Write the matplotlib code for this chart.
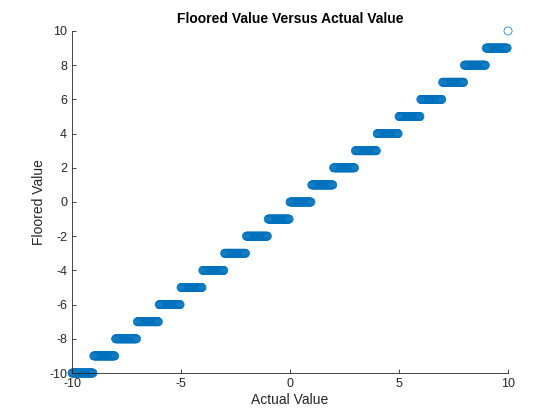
import matplotlib
matplotlib.use('Agg')
import matplotlib.pyplot as plt
import numpy as np

# floored levels and the sampled offsets within each unit interval
levels = [-10, -9, -8, -7, -6, -5, -4, -3, -2, -1, 0, 1, 2, 3, 4, 5, 6, 7, 8, 9]
offsets = [0.00, 0.02, 0.04, 0.06, 0.08, 0.10, 0.12, 0.14, 0.16, 0.18,
           0.20, 0.22, 0.24, 0.26, 0.28, 0.30, 0.32, 0.34, 0.36, 0.38,
           0.40, 0.42, 0.44, 0.46, 0.48, 0.50, 0.52, 0.54, 0.56, 0.58,
           0.60, 0.62, 0.64, 0.66, 0.68, 0.70, 0.72, 0.74, 0.76, 0.78,
           0.80, 0.82, 0.84, 0.86, 0.88, 0.90, 0.92, 0.94, 0.96]
end_actual = [10.0]
end_floored = [10]

xticks = [-10, -5, 0, 5, 10]
yticks = [-10, -8, -6, -4, -2, 0, 2, 4, 6, 8, 10]

actual = []
floored = []
for lv in levels:
    for off in offsets:
        actual.append(lv + off)
        floored.append(lv)
actual += end_actual
floored += end_floored

plt.rcParams['font.family'] = ['Liberation Sans', 'DejaVu Sans']
plt.rcParams['axes.unicode_minus'] = False
axcol = '#262626'

fig = plt.figure(figsize=(5.6, 4.2), dpi=100, facecolor='white')
ax = fig.add_axes([0.1286, 0.1119, 0.7786, 0.8143])

ax.scatter(actual, floored, s=34, facecolors='none', edgecolors='#0072BD',
           linewidths=0.5, clip_on=False)

ax.set_xlim(-10, 10)
ax.set_ylim(-10, 10)
ax.set_xticks(xticks)
ax.set_yticks(yticks)
ax.tick_params(direction='in', length=3, width=0.6, colors=axcol, labelsize=9)
for side in ['top', 'right']:
    ax.spines[side].set_visible(False)
for side in ['left', 'bottom']:
    ax.spines[side].set_color(axcol)
    ax.spines[side].set_linewidth(0.6)

ax.set_xlabel('Actual Value', fontsize=10, color=axcol, labelpad=2)
ax.set_ylabel('Floored Value', fontsize=10, color=axcol, labelpad=2)
ax.set_title('Floored Value Versus Actual Value', fontsize=10, fontweight='bold',
             color='black', pad=6)

plt.savefig('out.png', dpi=100, facecolor='white')
plt.close()
